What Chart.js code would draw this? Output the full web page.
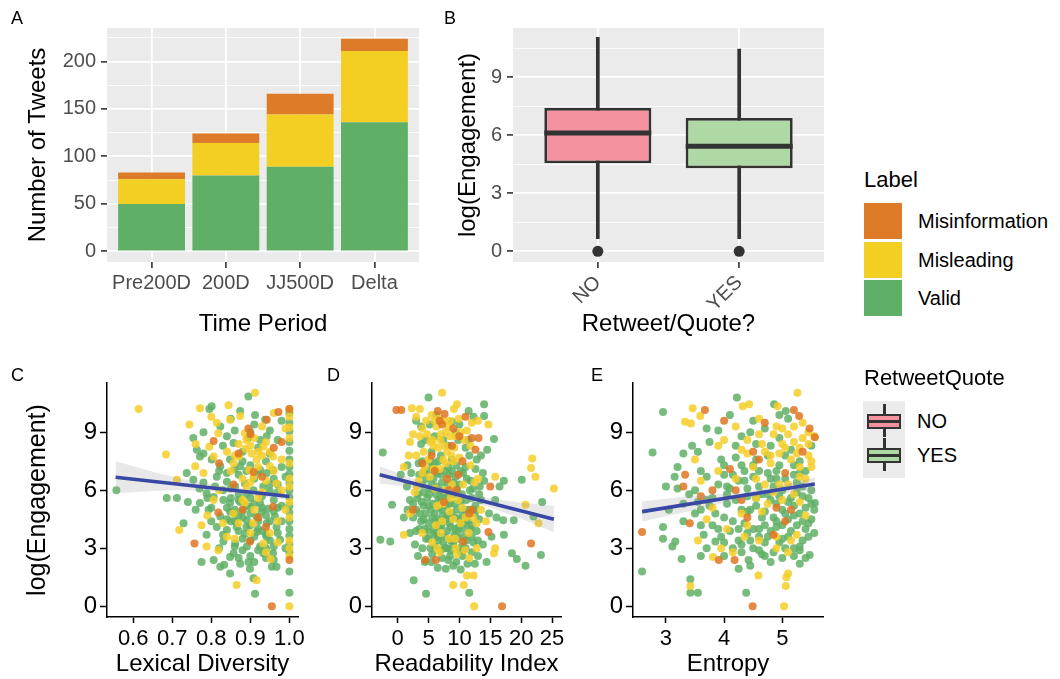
<!DOCTYPE html>
<html>
<head>
<meta charset="utf-8">
<script src="https://cdn.jsdelivr.net/npm/chart.js@4.4.1/dist/chart.umd.min.js"></script>
<style>
  body { margin: 0; background: #fff; font-family: "Liberation Sans", Arial, sans-serif; }
  #fig { position: relative; width: 1060px; height: 679px; overflow: hidden; }
  #fig canvas, #fig .abs { position: absolute; }
  .tag { font-size: 18px; line-height: 18px; color: #000; }
  .lgTitle { font-size: 22px; line-height: 22px; color: #000; }
  .lgText { font-size: 20px; line-height: 20px; color: #000; }
</style>
</head>
<body>
<div id="fig">
  <canvas id="chartA" width="430" height="345" style="left:0;top:0"></canvas>
  <canvas id="chartB" width="420" height="345" style="left:420px;top:0"></canvas>
  <canvas id="chartC" width="320" height="319" style="left:0;top:360px"></canvas>
  <canvas id="chartD" width="258" height="319" style="left:322px;top:360px"></canvas>
  <canvas id="chartE" width="260" height="319" style="left:585px;top:360px"></canvas>
  <div class="abs tag" style="left:11px;top:9px">A</div>
  <div class="abs tag" style="left:444px;top:9px">B</div>
  <div class="abs tag" style="left:11px;top:366px">C</div>
  <div class="abs tag" style="left:327px;top:366px">D</div>
  <div class="abs tag" style="left:591px;top:366px">E</div>
  <div id="legends"></div>
</div>
<script>
// panel A: tweets per time period, stacked by label
var periods = ['Pre200D', '200D', 'JJ500D', 'Delta'];
var validCounts = [50, 80, 89, 136];
var misleadingCounts = [26, 34, 55, 75];
var misinfoCounts = [7, 10, 22, 13];
var countTicks = [0, 25, 50, 75, 100, 125, 150, 175, 200, 225];

// panel B: log(Engagement) by retweet/quote
var rtGroups = ['NO', 'YES'];
var rtLowWhisker = [0.66, 0.66];
var rtQ1 = [4.56, 4.3];
var rtMedian = [6.12, 5.43];
var rtQ3 = [7.42, 6.9];
var rtHighWhisker = [11.07, 10.46];
var rtOutliers = [0, 0];
var engGridTicks = [0, 1.5, 3, 4.5, 6, 7.5, 9, 10.5];
var engTicks = [0, 3, 6, 9];

// panel C: lexical diversity
var lexTicks = [0.6, 0.7, 0.8, 0.9, 1.0];
var lexGreen = [[0.557,6.0],[0.686,5.6],[0.712,5.6],[0.729,4.3],[0.737,6.9],[0.754,6.55],[0.771,7.75],[0.78,7.9],[0.801,10.35],[0.795,10.2],[0.775,2.3],[0.788,3.7],[0.806,2.4],[0.823,2.05],[0.833,2.15],[0.848,2.55],[0.857,2.75],[0.874,2.2],[0.895,2.3],[0.899,1.95],[0.912,0.65],[0.908,1.45],[0.933,2.75],[0.955,2.05],[0.967,2.05],[0.895,10.85],[0.874,10.1],[0.912,9.9],[0.938,9.65],[0.823,9.3],[0.84,8.8],[0.857,8.45],[0.895,8.7],[0.925,8.6],[0.942,8.8],[0.754,8.7],[0.763,8.1],[0.801,7.6],[0.823,7.25],[0.848,7.6],[0.874,7.25],[0.925,7.05],[0.942,6.9],[0.958,7.05],[0.814,6.7],[0.84,6.45],[0.861,6.2],[0.886,6.35],[0.908,6.0],[0.933,6.2],[0.95,5.95],[0.788,5.85],[0.806,5.65],[0.831,5.5],[0.848,5.35],[0.874,5.4],[0.899,5.15],[0.925,5.35],[0.946,5.05],[0.771,5.35],[0.793,5.0],[0.823,4.65],[0.848,4.9],[0.869,4.65],[0.891,4.45],[0.916,4.65],[0.942,4.3],[0.963,4.65],[0.814,4.1],[0.84,3.95],[0.865,4.1],[0.886,3.75],[0.916,3.85],[0.942,3.6],[0.967,4.1],[0.976,3.45],[0.831,3.35],[0.861,3.25],[0.891,3.1],[0.925,3.1],[0.958,2.75],[0.848,1.7],[0.87,5.8],[0.9,5.6],[0.93,5.1],[0.86,4.4],[0.88,4.95],[0.92,4.0],[0.95,4.4],[0.9,3.4],[0.94,3.0],[0.87,6.8],[0.91,6.6],[0.89,7.0],[0.96,5.5],[0.97,6.3],[0.83,6.0],[0.85,6.1],[0.87,5.5],[0.89,5.8],[0.91,5.3],[0.93,5.7],[0.95,6.3],[0.97,5.9],[0.84,5.1],[0.86,5.0],[0.88,4.6],[0.9,4.8],[0.92,4.4],[0.94,4.7],[0.96,4.9],[0.98,5.2],[0.85,4.4],[0.87,3.9],[0.89,4.1],[0.91,3.6],[0.93,3.9],[0.95,3.4],[0.97,3.8],[0.83,3.7],[0.86,3.1],[0.88,2.9],[0.9,2.6],[0.92,2.9],[0.94,2.5],[0.96,3.1],[0.8,4.4],[0.79,5.6],[0.81,6.2],[0.78,6.4],[0.76,5.0],[0.74,5.4],[0.82,7.0],[0.86,7.1],[0.9,7.3],[0.94,7.5],[0.96,6.6],[0.98,7.2],[0.88,8.0],[0.92,8.2],[0.97,8.6],[0.86,9.1],[0.91,9.4],[0.83,8.3],[0.78,9.0],[0.98,4.4],[0.99,6.7],[0.99,3.0],[0.84,6.9],[0.88,7.5],[0.92,6.9],[0.95,7.9],[0.85,5.6],[0.89,5.2],[0.93,4.9],[0.97,5.1],[0.86,4.8],[0.9,4.2],[0.94,3.7],[0.88,3.5],[0.84,4.5],[0.8,5.1],[0.91,2.3],[0.87,2.5],[0.96,2.4],[0.82,3.0],[0.77,6.1],[0.9,9.0],[0.85,9.7],[0.95,9.1],[0.98,9.6],[1.0,10.0],[1.0,9.5],[1.0,9.05],[1.0,8.5],[1.0,8.05],[1.0,7.6],[1.0,7.2],[1.0,6.85],[1.0,6.4],[1.0,6.0],[1.0,5.65],[1.0,5.2],[1.0,4.85],[1.0,4.4],[1.0,4.0],[1.0,3.65],[1.0,3.2],[1.0,2.8],[1.0,1.8],[1.0,0.7]];
var lexYellow = [[0.614,10.2],[0.684,7.85],[0.718,3.95],[0.771,10.25],[0.844,10.4],[0.912,11.05],[0.744,9.4],[0.795,8.25],[0.806,7.75],[0.818,8.95],[0.78,6.9],[0.759,7.25],[0.857,7.4],[0.871,7.75],[0.888,8.15],[0.903,7.9],[0.916,7.6],[0.897,7.05],[0.908,6.7],[0.886,8.95],[0.933,8.25],[0.95,7.25],[0.958,7.75],[0.967,6.35],[0.712,6.55],[0.788,3.1],[0.818,2.9],[0.865,1.1],[0.916,1.35],[0.775,4.2],[0.886,5.35],[0.907,4.3],[0.933,3.25],[0.952,2.45],[0.84,3.6],[0.848,9.65],[0.874,9.85],[0.814,9.5],[0.857,4.8],[0.806,5.5],[0.92,8.0],[0.93,7.8],[0.94,6.5],[0.9,8.3],[0.88,6.6],[0.85,7.0],[0.87,8.4],[0.91,8.7],[0.95,8.0],[0.89,6.2],[0.93,5.9],[0.87,4.3],[0.91,5.0],[0.95,3.8],[0.82,6.0],[0.79,4.7],[0.97,4.4],[0.99,9.2],[0.98,7.6],[0.84,8.0],[0.93,9.3],[0.96,10.0],[0.8,9.8],[0.76,8.4],[0.99,5.0],[0.86,7.8],[0.89,8.6],[0.92,7.2],[0.94,8.5],[0.96,7.0],[0.9,6.4],[0.88,5.5],[0.92,5.6],[0.86,3.5],[0.9,3.8],[0.94,2.8],[0.97,3.3],[0.83,4.3],[0.98,6.0],[1.0,0],[1.0,10.2],[1.0,9.8],[1.0,9.25],[1.0,8.7],[1.0,7.4],[1.0,6.6],[1.0,6.2],[1.0,5.4],[1.0,4.6],[1.0,3.4],[1.0,3.0],[1.0,2.6]];
var lexOrange = [[0.955,0],[0.972,10.05],[0.895,9.2],[0.806,8.55],[0.908,6.95],[0.757,3.25],[0.899,3.35],[1.0,2.4],[0.942,9.65],[0.857,6.3],[0.818,4.85],[0.958,5.15],[1.0,10.2],[0.96,8.2],[0.82,7.4],[0.87,7.9],[0.92,4.6],[0.9,8.9],[0.94,4.1],[0.93,6.7],[0.88,5.0],[0.98,8.5]];
var lexFitX = [0.555, 1.0];
var lexFitY = [6.68, 5.68];
var lexBandX = [0.555, 0.7, 0.8, 0.9, 1.0];
var lexBandLow = [5.85, 6.0, 5.95, 5.75, 5.5];
var lexBandHigh = [7.5, 6.7, 6.32, 6.05, 5.86];

// panel D: readability index
var readTicks = [0, 5, 10, 15, 20, 25];
var readGreen = [[-2.8,3.45],[-1.2,3.35],[-2.4,7.95],[-0.9,5.25],[2.6,1.35],[4.6,0.65],[11.6,0.7],[5.0,10.8],[11.5,10.1],[14.0,10.45],[14.0,9.85],[15.6,8.65],[14.5,8.1],[17.2,6.5],[18.8,4.45],[17.1,4.45],[17.2,3.7],[14.4,2.3],[20.1,6.55],[23.4,5.4],[22.0,4.65],[23.2,2.65],[20.7,2.1],[18.5,2.75],[19.3,2.45],[1.5,6.2],[2.0,5.5],[2.5,4.6],[3.0,3.9],[1.0,4.6],[3.5,6.8],[4.0,7.5],[4.5,8.6],[3.0,9.6],[5.2,9.4],[6.0,8.8],[4.8,7.0],[5.5,6.3],[6.2,5.8],[5.0,5.2],[4.2,4.5],[5.8,4.0],[6.5,3.4],[5.3,3.0],[4.4,2.3],[6.5,2.0],[7.8,1.95],[8.5,2.6],[9.5,2.3],[10.5,2.6],[12.0,2.8],[13.0,3.4],[11.8,4.0],[12.5,4.8],[13.5,5.5],[12.2,6.1],[13.8,6.9],[12.8,7.6],[11.0,8.2],[10.0,9.4],[8.8,9.55],[9.5,7.3],[8.3,6.8],[7.2,6.4],[8.0,5.7],[9.2,5.3],[10.4,5.8],[11.2,6.6],[10.0,4.5],[8.6,4.1],[7.3,4.7],[6.8,5.1],[7.6,3.6],[9.0,3.2],[10.8,3.6],[11.5,5.0],[12.8,3.9],[6.0,7.4],[7.0,7.8],[8.2,8.3],[9.8,8.6],[3.2,5.6],[2.2,6.9],[1.6,7.3],[0.5,6.8],[4.6,3.5],[5.6,2.7],[7.0,2.9],[10.2,1.9],[12.5,2.2],[14.8,4.8],[15.8,5.5],[16.5,6.2],[14.0,6.5],[15.2,3.6],[16.0,4.6],[6.4,4.5],[7.9,5.2],[9.6,6.1],[11.0,7.2],[8.8,7.6],[5.5,8.0],[3.8,8.4],[4.2,5.9],[6.9,6.0],[10.6,4.0],[12.0,5.6],[13.2,4.5],[8.2,4.7],[9.4,4.0],[5.9,3.7],[3.5,4.0],[2.8,3.2],[8.0,3.0],[11.0,3.0],[3.0,5.0],[3.6,4.8],[4.2,5.2],[4.8,5.6],[5.4,5.0],[6.0,4.8],[6.6,5.5],[7.2,5.0],[7.8,4.5],[8.4,5.3],[9.0,5.8],[9.6,5.0],[10.2,5.4],[10.8,5.0],[11.4,4.4],[12.0,4.2],[12.6,5.2],[13.2,5.8],[4.0,6.3],[4.6,6.6],[5.2,6.1],[5.8,6.6],[6.4,6.9],[7.0,6.8],[7.6,7.0],[8.2,7.2],[8.8,7.0],[9.4,6.7],[10.0,6.3],[10.6,6.9],[11.8,6.5],[12.6,7.1],[4.4,4.0],[5.0,4.3],[5.6,4.6],[6.2,3.8],[6.8,4.1],[7.4,3.3],[8.0,3.9],[8.6,3.4],[9.2,3.7],[9.8,3.5],[10.4,3.1],[11.2,3.4],[12.0,3.6],[5.0,3.5],[6.0,3.1],[7.2,2.5],[8.2,2.4],[9.0,2.1],[4.0,3.0],[3.3,2.6],[2.0,3.8],[1.6,5.0],[13.5,7.8],[11.5,8.6],[9.4,9.0],[7.4,8.6],[6.2,9.9],[5.6,7.2],[3.4,7.4],[8.6,2.9],[13.8,3.2],[12.3,9.8],[3.8,9.3],[2.5,5.3],[3.3,5.8],[3.9,5.4],[4.5,4.8],[5.1,5.8],[5.7,5.3],[6.3,6.2],[6.9,5.6],[7.5,5.8],[8.1,6.3],[8.7,4.8],[9.3,4.6],[9.9,4.1],[10.5,4.7],[11.1,5.5],[11.7,6.0],[12.3,5.0],[3.8,4.4],[4.9,3.9],[6.1,4.4],[7.1,4.2],[8.4,4.3],[9.7,3.8],[10.9,4.3],[12.3,3.3],[5.5,2.3],[6.6,3.6],[7.7,3.0],[8.9,3.4],[10.0,2.9],[11.3,2.2],[13.0,2.6],[4.3,7.0],[5.3,7.5],[6.6,7.5],[9.0,6.4],[10.2,7.0],[11.6,7.8],[13.3,6.2]];
var readYellow = [[21.8,7.65],[21.6,7.15],[22.3,6.7],[25.3,6.1],[20.7,5.25],[22.8,4.3],[12.4,0],[1.0,3.7],[9.0,1.1],[10.7,1.1],[11.2,1.6],[12.3,1.6],[7.2,11.05],[2.3,10.25],[3.6,10.2],[9.1,10.2],[9.6,10.45],[14.7,9.4],[15.8,6.7],[15.8,3.0],[15.6,2.75],[1.0,7.2],[2.0,8.5],[3.0,9.8],[4.0,9.2],[5.5,9.9],[6.3,9.3],[7.0,8.9],[7.8,9.0],[8.5,8.8],[6.6,8.2],[7.4,7.6],[8.0,8.0],[9.2,8.2],[10.2,9.0],[11.2,9.1],[12.0,9.5],[13.0,9.6],[3.0,7.8],[4.2,8.0],[5.0,7.6],[5.8,7.1],[3.4,6.5],[2.8,5.9],[4.0,6.9],[8.8,6.3],[10.0,7.7],[11.8,7.3],[13.0,6.6],[6.2,4.2],[7.2,4.4],[8.3,3.5],[9.0,4.5],[10.2,4.3],[11.0,4.6],[12.8,3.0],[11.6,2.5],[9.6,2.7],[4.0,3.8],[2.0,4.8],[3.1,6.2],[13.5,5.0],[14.3,4.4],[6.7,9.7],[5.3,8.5],[4.8,8.9],[5.6,8.6],[6.0,9.6],[6.8,7.1],[7.6,8.3],[8.2,9.3],[8.7,7.8],[9.4,8.8],[4.4,7.2],[5.2,6.7],[6.4,5.2],[7.7,6.0],[8.6,5.6],[9.8,5.5],[10.6,6.3],[7.0,3.8],[9.4,3.0],[10.9,2.9],[11.5,3.8],[12.8,4.3],[5.6,3.3],[6.8,2.8],[12.5,6.4],[2.5,8.9],[1.8,7.8],[5.8,8.3],[6.9,8.6],[7.5,9.6],[8.5,9.6],[9.9,9.7],[10.8,8.6],[11.8,8.3],[4.6,9.6],[3.6,8.8],[7.8,7.4],[9.1,7.5],[6.0,6.1],[7.3,5.3],[8.4,4.9],[10.5,5.1],[12.2,4.6],[9.3,3.5],[6.4,3.0]];
var readOrange = [[21.6,3.25],[16.9,0],[4.5,2.4],[6.2,2.4],[-0.2,10.15],[0.6,10.15],[6.5,10.1],[7.6,9.95],[13.1,8.7],[12.6,8.1],[15.0,6.2],[14.7,3.85],[10.6,3.35],[6.8,9.6],[4.0,7.4],[10.0,8.8],[12.0,5.0],[7.5,5.4],[9.8,6.8],[8.3,6.0],[12.0,8.7],[2.5,5.0],[5.5,7.8],[8.0,6.6],[10.5,7.5],[11.6,4.8],[9.0,9.2],[7.2,9.4],[8.8,8.3],[6.0,7.0],[11.0,9.8],[9.5,6.0]];
var readFitX = [-2.9, 25.3];
var readFitY = [6.8, 4.5];
var readBandX = [-2.9, 3, 8, 13, 19, 25.3];
var readBandLow = [6.35, 6.1, 5.75, 5.3, 4.65, 3.85];
var readBandHigh = [7.25, 6.55, 6.08, 5.72, 5.4, 5.2];

// panel E: entropy
var entTicks = [3, 4, 5];
var entGreen = [[2.59,1.8],[2.95,10.05],[2.77,7.95],[2.95,4.1],[2.95,3.5],[3.0,6.2],[3.11,3.1],[3.16,3.35],[3.27,2.45],[3.42,1.4],[3.42,0.7],[3.55,0.7],[4.22,10.8],[4.86,10.45],[5.06,10.1],[5.56,5.35],[5.47,2.65],[4.25,1.95],[4.42,2.4],[4.38,0.7],[3.85,3.35],[3.3,7.9],[3.2,7.2],[3.15,6.7],[3.5,6.0],[3.6,7.0],[3.7,5.5],[3.5,4.8],[3.8,4.2],[3.65,3.7],[3.95,7.6],[4.0,6.8],[4.1,6.1],[4.05,5.3],[4.0,4.6],[4.1,3.9],[4.15,3.0],[4.0,2.6],[4.3,8.8],[4.3,7.3],[4.35,6.5],[4.4,5.7],[4.3,5.0],[4.35,4.3],[4.45,3.4],[4.5,9.6],[4.55,8.4],[4.6,7.0],[4.6,6.2],[4.55,5.2],[4.6,4.0],[4.6,2.9],[4.7,9.2],[4.75,7.8],[4.8,6.6],[4.8,5.5],[4.85,4.6],[4.75,3.6],[4.8,2.3],[4.95,8.7],[4.95,7.3],[5.0,6.0],[5.0,5.0],[5.0,4.2],[4.95,3.3],[5.1,9.7],[5.15,8.1],[5.2,6.8],[5.15,5.6],[5.2,4.7],[5.15,3.9],[5.2,2.6],[5.3,7.5],[5.35,6.2],[5.4,5.1],[5.35,4.4],[5.3,3.1],[5.45,3.6],[5.5,8.3],[5.5,6.0],[3.9,9.1],[4.1,9.9],[3.75,8.5],[3.45,8.3],[3.3,5.3],[3.05,5.0],[4.2,7.7],[4.5,6.7],[4.7,4.9],[4.9,4.1],[5.05,7.8],[5.25,4.2],[3.6,2.6],[4.85,2.8],[5.3,2.9],[3.6,5.0],[3.8,5.6],[3.9,6.3],[3.7,6.7],[3.85,4.8],[3.95,3.6],[4.05,5.8],[4.15,4.4],[4.2,5.5],[4.25,6.5],[4.25,3.4],[4.4,6.1],[4.45,5.0],[4.5,4.0],[4.5,3.0],[4.55,7.6],[4.65,5.8],[4.65,4.6],[4.7,3.3],[4.75,6.9],[4.85,6.2],[4.9,5.3],[4.9,4.4],[5.0,3.5],[5.05,6.6],[5.1,5.4],[5.1,4.5],[5.2,3.0],[5.25,5.9],[5.3,4.8],[5.4,4.0],[5.45,5.6],[5.35,3.4],[5.5,4.5],[5.55,5.0],[4.8,3.9],[4.4,3.8],[4.0,3.3],[3.7,3.0],[4.3,2.8],[4.7,2.6],[5.0,2.5],[5.3,2.2],[3.4,5.8],[3.2,6.1],[3.3,4.4],[4.0,7.3],[4.2,8.3],[4.45,9.0],[4.8,8.3],[5.2,7.3],[5.4,7.0],[3.55,8.0],[3.7,9.2],[4.95,9.9],[4.35,7.0],[4.05,6.2],[4.25,4.0],[4.4,4.9],[4.55,5.6],[4.7,4.2],[4.75,5.8],[4.9,6.6],[4.95,5.7],[5.05,4.8],[5.1,3.6],[5.2,5.2],[5.25,6.4],[5.35,5.7],[5.45,4.3],[5.5,5.3],[4.6,3.6],[4.3,3.2],[3.9,4.0],[3.75,5.2],[3.55,5.4],[3.6,4.2],[4.15,6.8],[4.5,7.3],[4.9,7.0],[5.3,6.9],[5.05,3.0],[4.65,2.7],[4.45,2.1],[5.4,2.5],[5.55,3.8]];
var entYellow = [[3.42,1.05],[3.33,9.55],[3.43,9.45],[3.46,10.25],[3.59,9.85],[4.43,10.45],[4.32,10.35],[5.03,0],[5.26,11.05],[4.92,10.35],[5.07,1.5],[5.06,1.05],[5.1,1.7],[4.59,1.6],[3.81,2.55],[3.6,6.5],[3.7,4.5],[3.9,8.3],[4.2,9.3],[4.4,7.9],[4.5,7.2],[4.6,8.9],[4.7,8.0],[4.8,7.4],[4.9,9.3],[5.0,8.4],[5.1,8.9],[5.2,8.5],[5.25,7.9],[5.35,8.7],[5.45,7.8],[5.5,7.2],[5.3,6.7],[5.1,6.3],[4.85,5.9],[4.55,5.6],[4.3,4.8],[4.6,3.4],[4.9,3.0],[5.15,3.4],[4.05,4.0],[3.95,3.0],[5.4,6.6],[3.5,7.6],[4.7,6.3],[5.55,8.8],[4.0,8.6],[4.3,8.1],[4.6,9.7],[4.85,8.9],[4.95,7.9],[5.15,7.6],[5.3,8.2],[5.45,8.4],[5.5,7.5],[5.2,9.3],[4.55,6.6],[4.75,5.3],[5.0,5.5],[5.3,5.4],[4.35,3.6],[3.8,5.1],[4.15,2.8],[5.1,2.8],[3.55,3.4],[4.65,8.4],[5.0,9.2],[5.35,9.5],[5.45,9.0],[5.3,7.2],[5.05,8.2],[4.8,7.8],[4.4,8.6],[4.2,6.6],[4.95,6.3],[5.2,5.8],[4.65,4.9],[4.4,4.2],[4.9,3.6],[5.4,4.7],[5.25,3.7],[3.9,7.0]];
var entOrange = [[2.59,3.85],[3.67,10.15],[4.0,9.6],[4.49,0],[5.2,10.15],[5.29,9.85],[5.56,8.75],[5.47,9.2],[3.33,6.8],[3.3,6.2],[3.41,4.3],[3.91,2.4],[4.18,2.4],[4.5,8.0],[4.2,6.0],[4.7,9.5],[5.05,6.9],[4.4,4.6],[4.9,5.1],[4.1,7.1],[4.6,7.6],[5.15,5.0],[3.8,6.0],[4.85,3.7],[5.35,8.0],[4.3,5.5],[5.05,4.4],[3.6,5.7]];
var entFitX = [2.59, 5.56];
var entFitY = [4.9, 6.33];
var entBandX = [2.59, 3.5, 4.3, 5.0, 5.56];
var entBandLow = [4.38, 4.98, 5.55, 5.85, 5.98];
var entBandHigh = [5.42, 5.72, 5.9, 6.28, 6.66];

var labelNames = ['Misinformation', 'Misleading', 'Valid'];
var labelColors = ['#de7b28', '#f2cf22', '#5faf67'];
var pointColors = ['rgba(224,118,34,0.85)', 'rgba(245,206,40,0.85)', 'rgba(96,176,102,0.85)'];
var boxColors = ['#f4929f', '#aed9a5'];
var dark = '#333333';

Chart.defaults.font.family = '"Liberation Sans", Arial, sans-serif';
Chart.defaults.animation = false;
Chart.defaults.plugins.legend.display = false;
Chart.defaults.plugins.tooltip.enabled = false;

function useTicks(values) {
  return function(scale) {
    scale.ticks = values.map(function(v) { return {value: v}; });
  };
}
function fixWidth(w) {
  return function(scale) { scale.width = w; scale.paddingTop = 0; scale.paddingBottom = 0; };
}
function fixHeight(h) {
  return function(scale) { scale.height = h; scale.paddingLeft = 0; scale.paddingRight = 0; };
}
function pts(pairs) {
  return pairs.map(function(p) { return {x: p[0], y: p[1]}; });
}
function zipXY(xs, ys) {
  return xs.map(function(x, i) { return {x: x, y: ys[i]}; });
}

// grey ggplot panel
var panelBg = {
  id: 'panelBg',
  beforeDraw: function(chart) {
    var a = chart.chartArea, ctx = chart.ctx;
    ctx.save();
    ctx.fillStyle = '#ebebeb';
    ctx.fillRect(a.left, a.top, a.right - a.left, a.bottom - a.top);
    ctx.restore();
  }
};

function greyYAxis(min, max, ticks, major, width, title, titleOffset) {
  return {
    min: min, max: max, bounds: 'data',
    afterBuildTicks: useTicks(ticks),
    afterFit: fixWidth(width),
    border: {display: false},
    grid: {
      color: '#ffffff',
      lineWidth: function(c) { return c.tick && c.tick.value % major ? 0.8 : 1.8; },
      tickColor: function(c) { return c.tick && c.tick.value % major ? 'rgba(0,0,0,0)' : dark; },
      tickLength: 6, tickWidth: 1.6
    },
    ticks: {
      color: '#4d4d4d', font: {size: 20}, padding: 5, autoSkip: false,
      callback: function(v) { return v % major ? '' : v; }
    },
    title: {display: true, text: title, color: '#000', font: {size: 24}, padding: {top: titleOffset, bottom: 0}}
  };
}

function greyXAxis(names, ticks, height, title, rotation) {
  return {
    type: 'linear', min: -0.6, max: names.length - 0.4, bounds: 'data', offset: false,
    afterBuildTicks: useTicks(ticks),
    afterFit: fixHeight(height),
    border: {display: false},
    grid: {offset: false, color: '#ffffff', lineWidth: 1.8, tickColor: dark, tickLength: 6, tickWidth: 1.6},
    ticks: {
      color: '#4d4d4d', font: {size: 20}, padding: 3, autoSkip: false,
      minRotation: rotation, maxRotation: rotation,
      callback: function(v) { return names[v]; }
    },
    title: {display: true, text: title, color: '#000', font: {size: 24}, padding: {top: 0, bottom: 6}}
  };
}

// A: stacked bars
var idx = periods.map(function(p, i) { return i; });
new Chart(document.getElementById('chartA'), {
  type: 'bar',
  data: {
    datasets: [
      {label: labelNames[2], data: zipXY(idx, validCounts), backgroundColor: labelColors[2]},
      {label: labelNames[1], data: zipXY(idx, misleadingCounts), backgroundColor: labelColors[1]},
      {label: labelNames[0], data: zipXY(idx, misinfoCounts), backgroundColor: labelColors[0]}
    ]
  },
  options: {
    responsive: false,
    layout: {padding: {left: 0, right: 11, top: 28, bottom: 0}},
    datasets: {bar: {barPercentage: 0.9, categoryPercentage: 1.0}},
    scales: {
      x: Object.assign(greyXAxis(periods, idx, 83, 'Time Period', 0), {stacked: true}),
      y: Object.assign(greyYAxis(-11.2, 235.2, countTicks, 50, 107, 'Number of Tweets', 24), {stacked: true})
    }
  },
  plugins: [panelBg]
});

// B: box plots from floating bars
var gIdx = rtGroups.map(function(g, i) { return i; });
function spans(lo, hi) {
  return gIdx.map(function(i) { return {x: i, y: [lo[i], hi[i]]}; });
}
var medLo = rtMedian.map(function(m) { return m - 0.13; });
var medHi = rtMedian.map(function(m) { return m + 0.13; });
new Chart(document.getElementById('chartB'), {
  type: 'bar',
  data: {
    datasets: [
      {type: 'line', data: zipXY(gIdx, rtOutliers), showLine: false, pointRadius: 5.5,
       pointBackgroundColor: dark, pointBorderWidth: 0, order: 0},
      {data: spans(medLo, medHi), backgroundColor: dark, grouped: false,
       barPercentage: 0.757, categoryPercentage: 1, order: 1},
      {data: spans(rtQ1, rtQ3), backgroundColor: boxColors, borderColor: dark, borderWidth: 2.8,
       borderSkipped: false, grouped: false, barPercentage: 0.757, categoryPercentage: 1, order: 2},
      {data: spans(rtLowWhisker, rtHighWhisker), backgroundColor: dark, grouped: false,
       barThickness: 3, order: 3}
    ]
  },
  options: {
    responsive: false,
    layout: {padding: {left: 0, right: 16, top: 28, bottom: 0}},
    scales: {
      x: greyXAxis(rtGroups, gIdx, 83, 'Retweet/Quote?', 45),
      y: Object.assign(greyYAxis(-0.55, 11.55, engGridTicks, 3, 93, 'log(Engagement)', 34), {stacked: false})
    }
  },
  plugins: [panelBg]
});

// C, D, E: scatter with linear fit and confidence band
function scatterPanel(id, o) {
  var yTitle = o.yTitle ? {display: true, text: o.yTitle, color: '#000', font: {size: 25}, padding: {top: 23, bottom: 0}} : {display: false};
  new Chart(document.getElementById(id), {
    type: 'scatter',
    data: {
      datasets: [
        {type: 'line', data: zipXY(o.fitX, o.fitY), borderColor: '#3a48a5', borderWidth: 3.6, pointRadius: 0, order: 0},
        {type: 'line', data: zipXY(o.bandX, o.bandHigh), borderWidth: 0, borderColor: 'rgba(0,0,0,0)', pointRadius: 0,
         tension: 0.3, fill: '+1', backgroundColor: 'rgba(150,150,150,0.22)', order: 1},
        {type: 'line', data: zipXY(o.bandX, o.bandLow), borderWidth: 0, borderColor: 'rgba(0,0,0,0)', pointRadius: 0,
         tension: 0.3, fill: false, order: 2},
        {data: pts(o.orange), backgroundColor: pointColors[0], pointRadius: 4, borderWidth: 0, order: 3},
        {data: pts(o.yellow), backgroundColor: pointColors[1], pointRadius: 4, borderWidth: 0, order: 4},
        {data: pts(o.green), backgroundColor: pointColors[2], pointRadius: 4, borderWidth: 0, order: 5}
      ]
    },
    options: {
      responsive: false,
      layout: {padding: {left: 0, right: o.padRight, top: 23, bottom: 0}},
      scales: {
        x: {
          type: 'linear', min: o.xMin, max: o.xMax, bounds: 'data',
          afterBuildTicks: useTicks(o.xTicks), afterFit: fixHeight(62),
          border: {color: '#000', width: 1.5},
          grid: {drawOnChartArea: false, tickLength: 6, tickColor: '#000', tickWidth: 1.5},
          ticks: {color: '#000', font: {size: 22}, padding: 3, autoSkip: false, maxRotation: 0,
                  callback: function(v) { return o.xFormat ? v.toFixed(1) : v; }},
          title: {display: true, text: o.xTitle, color: '#000', font: {size: 24}, padding: {top: 0, bottom: 0}}
        },
        y: {
          min: -0.55, max: 11.55, bounds: 'data',
          afterBuildTicks: useTicks(engTicks), afterFit: fixWidth(o.yWidth),
          border: {color: '#000', width: 1.5},
          grid: {drawOnChartArea: false, tickLength: 7, tickColor: '#000', tickWidth: 1.5},
          ticks: {color: '#000', font: {size: 24}, padding: 3},
          title: yTitle
        }
      }
    }
  });
}

scatterPanel('chartC', {
  green: lexGreen, yellow: lexYellow, orange: lexOrange,
  fitX: lexFitX, fitY: lexFitY, bandX: lexBandX, bandLow: lexBandLow, bandHigh: lexBandHigh,
  xMin: 0.533, xMax: 1.022, xTicks: lexTicks, xFormat: true, xTitle: 'Lexical Diversity',
  yTitle: 'log(Engagement)', yWidth: 107, padRight: 22
});
scatterPanel('chartD', {
  green: readGreen, yellow: readYellow, orange: readOrange,
  fitX: readFitX, fitY: readFitY, bandX: readBandX, bandLow: readBandLow, bandHigh: readBandHigh,
  xMin: -4.15, xMax: 26.45, xTicks: readTicks, xTitle: 'Readability Index',
  yWidth: 50, padRight: 19
});
scatterPanel('chartE', {
  green: entGreen, yellow: entYellow, orange: entOrange,
  fitX: entFitX, fitY: entFitY, bandX: entBandX, bandLow: entBandLow, bandHigh: entBandHigh,
  xMin: 2.434, xMax: 5.70, xTicks: entTicks, xTitle: 'Entropy',
  yWidth: 48, padRight: 22
});

// legends
var lg = document.getElementById('legends');
function addDiv(cls, css, text) {
  var d = document.createElement('div');
  d.className = 'abs ' + cls;
  d.style.cssText = css;
  if (text) d.textContent = text;
  lg.appendChild(d);
  return d;
}
addDiv('lgTitle', 'left:864px;top:169px', 'Label');
labelNames.forEach(function(name, i) {
  var top = 203 + i * 38.5;
  addDiv('', 'left:864px;top:' + top + 'px;width:38px;height:36px;background:' + labelColors[i]);
  addDiv('lgText', 'left:918px;top:' + (top + 8) + 'px', name);
});
addDiv('lgTitle', 'left:864px;top:367px', 'RetweetQuote');
addDiv('', 'left:863px;top:401px;width:42px;height:77px;background:#ebebeb');
rtGroups.forEach(function(name, i) {
  var top = 404 + i * 34;
  addDiv('', 'left:883px;top:' + top + 'px;width:3px;height:33px;background:' + dark);
  addDiv('', 'left:867px;top:' + (top + 10) + 'px;width:34px;height:15px;box-sizing:border-box;border:2.6px solid ' + dark + ';background:' + boxColors[i]);
  addDiv('', 'left:867px;top:' + (top + 16) + 'px;width:34px;height:3px;background:' + dark);
  addDiv('lgText', 'left:917px;top:' + (top + 7) + 'px', name);
});
</script>
</body>
</html>
